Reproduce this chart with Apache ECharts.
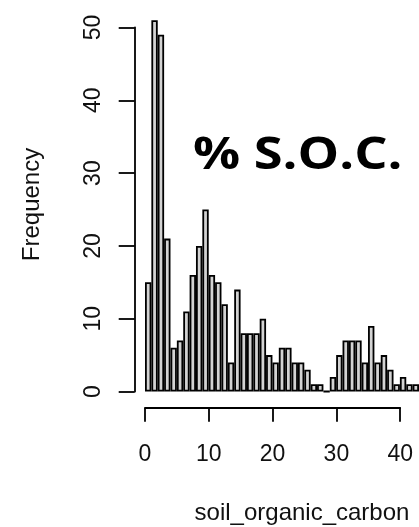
<!DOCTYPE html>
<html>
<head>
<meta charset="utf-8">
<script src="https://cdn.jsdelivr.net/npm/echarts@6/dist/echarts.min.js"></script>
<style>
html,body{margin:0;padding:0;background:#fff;}
#c{width:419px;height:527px;}
</style>
</head>
<body>
<div id="c"></div>
<script>
// Histogram bins (width 1, starting at 0)
const binStarts = [0,1,2,3,4,5,6,7,8,9,10,11,12,13,14,15,16,17,18,19,20,21,22,23,24,25,26,27,28,29,30,31,32,33,34,35,36,37,38,39,40,41,42];
const frequency = [15,51,49,21,6,7,11,16,20,25,16,15,12,4,14,8,8,8,10,5,4,6,6,4,4,3,1,1,0,2,5,7,7,7,4,9,4,5,3,1,2,1,1];
const xTicks = [0,10,20,30,40];
const yTicks = [0,10,20,30,40,50];
const xTitle = 'soil_organic_carbon';
const yTitle = 'Frequency';
const overlayText = '% S.O.C.';

const chart = echarts.init(document.getElementById('c'), null, {renderer:'canvas'});
const font = '"Liberation Sans", Arial, Helvetica, sans-serif';
const binPx = 6.38;
chart.setOption({
  backgroundColor:'#ffffff',
  animation:false,
  grid:[
    {left:145, top:27.5, width:binPx*binStarts.length, height:364, containLabel:false},
    {left:145, top:399.7, width:binPx*(xTicks[xTicks.length-1]-xTicks[0]), height:8, containLabel:false}
  ],
  xAxis:[
    {gridIndex:0, type:'category', data:binStarts.map(String), boundaryGap:true, show:false},
    {gridIndex:1, type:'value', min:xTicks[0], max:xTicks[xTicks.length-1], interval:10, position:'bottom',
     axisLine:{show:true, lineStyle:{color:'#000', width:1.8}},
     axisTick:{show:true, length:14, lineStyle:{color:'#000', width:1.8}},
     splitLine:{show:false},
     axisLabel:{show:true, margin:35, fontSize:23, color:'#111', fontFamily:font,
       customValues: xTicks}
    }
  ],
  yAxis:[
    {gridIndex:0, type:'value', min:yTicks[0], max:yTicks[yTicks.length-1], interval:10, offset:10.3,
     axisLine:{show:true, lineStyle:{color:'#000', width:1.8}},
     axisTick:{show:true, length:16, lineStyle:{color:'#000', width:1.8}},
     splitLine:{show:false},
     axisLabel:{show:true, rotate:90, margin:30, fontSize:23, color:'#111', fontFamily:font}
    },
    {gridIndex:1, type:'value', show:false, min:0, max:1}
  ],
  series:[{
    type:'bar', xAxisIndex:0, yAxisIndex:0, data:frequency, barCategoryGap:'0%', clip:false,
    itemStyle:{color:'#d3d3d3', borderColor:'#000', borderWidth:1.8},
    emphasis:{disabled:true}
  }],
  graphic:[
    {type:'text', x:32, y:204.5, rotation:Math.PI/2, style:{text:yTitle, font:'24px '+font, fill:'#111', align:'center', verticalAlign:'middle'}},
    {type:'text', x:302, y:513, style:{text:xTitle, font:'24px '+font, fill:'#111', align:'center', verticalAlign:'middle'}},
    {type:'text', x:193, y:156, scaleX:1.19, style:{text:overlayText, font:'bold 44px "Open Sans", sans-serif', fill:'#000', align:'left', verticalAlign:'middle'}}
  ]
});
</script>
</body>
</html>
